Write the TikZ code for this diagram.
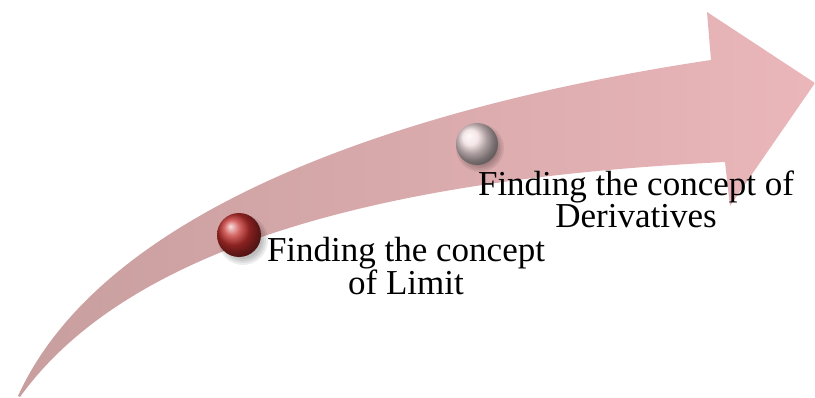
\documentclass[tikz,border=0pt]{standalone}
\usepackage{fontspec}
\setmainfont{Liberation Serif}
\definecolor{arrowL}{RGB}{200,158,158}
\definecolor{arrowR}{RGB}{234,182,186}
\definecolor{redball}{RGB}{196,48,46}
\definecolor{whiteball}{RGB}{242,222,224}
\begin{document}
\begin{tikzpicture}[x=1pt,y=-1pt,
  lbl/.style={font=\fontsize{35}{32}\selectfont, align=center, anchor=base, inner sep=0pt},
  sphere/.style={circle, minimum size=#1, inner sep=0pt, shading=ball},
  shadowdot/.style={fill=black, opacity=0.07}]
\useasboundingbox (0,0) rectangle (815,398);
% curved arrow
\shade[left color=arrowL, right color=arrowR]
  (18,396) .. controls (120,172) and (517,89) .. (711,60)
  -- (707,12) -- (815,83) -- (730,206) -- (725,162)
  .. controls (482,174) and (150,216) .. (20,397) -- cycle;
% soft shadows under the spheres
\foreach \r in {19,21,23,25}{
  \fill[shadowdot] (243,240) circle (\r);
  \fill[shadowdot] (480,148) circle (\r-1);
}
% spheres
\node[sphere=44pt, ball color=redball] (s1) at (239,235) {};
\node[sphere=42pt, ball color=whiteball] (s2) at (477,144) {};
% labels (anchor=base is the baseline of the last line)
\node[lbl] (t1) at (406,295) {Finding the concept\\of Limit};
\node[lbl] (t2) at (636,228) {Finding the concept of\\Derivatives};
\end{tikzpicture}
\end{document}
